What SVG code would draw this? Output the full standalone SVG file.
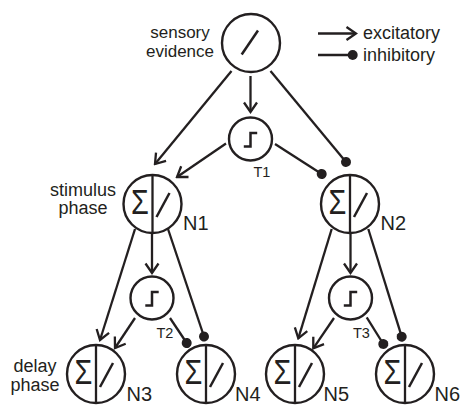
<svg xmlns="http://www.w3.org/2000/svg" xmlns:xlink="http://www.w3.org/1999/xlink" width="460" height="405" viewBox="0 0 460 405">
  <style>
    .ln { fill: none; stroke: #231f20; stroke-width: 2.3; stroke-linecap: butt; }
    .ring { fill: #ffffff; stroke: #231f20; stroke-width: 2.4; }
    .glyph { fill: none; stroke: #231f20; stroke-width: 2.5; stroke-linejoin: miter; }
    .lbl { font-family: "Liberation Sans", Arial, Helvetica, sans-serif; fill: #231f20; }
    .big { font-size: 18px; }
    .nlab { font-size: 20px; }
    .tlab { font-size: 14.5px; }
    .exc { marker-end: url(#arrowHead); }
    .inh { marker-end: url(#dotHead); }
  </style>
  <defs>
    <marker id="arrowHead" viewBox="-13 -9 15 18" refX="0" refY="0" markerWidth="15" markerHeight="18" markerUnits="userSpaceOnUse" orient="auto">
      <path d="M-9.5,-6.5 L0,0 L-9.5,6.5" fill="none" stroke="#231f20" stroke-width="2.3"/>
    </marker>
    <marker id="dotHead" viewBox="-6 -6 12 12" refX="0" refY="0" markerWidth="12" markerHeight="12" markerUnits="userSpaceOnUse" orient="auto">
      <circle cx="0" cy="0" r="5" fill="#231f20"/>
    </marker>
    <!-- integrator unit: circle split into sum and linear halves -->
    <g id="sumUnit">
      <circle class="ring" cx="0" cy="0" r="29"/>
      <line class="ln" x1="0" y1="-29" x2="0" y2="29"/>
      <text class="lbl" x="0" y="10" font-size="36" text-anchor="middle" transform="translate(-12.5,0) scale(0.8,1)">Σ</text>
      <line class="glyph" x1="4" y1="13" x2="17" y2="-11"/>
    </g>
    <!-- threshold unit: circle with a step function -->
    <g id="stepUnit">
      <circle class="ring" cx="0" cy="0" r="21.5"/>
      <path class="glyph" d="M-6.7,7.5 H0 V-6 H6.7"/>
    </g>
  </defs>

  <!-- connectors -->
  <g id="connectors">
    <path class="ln exc" d="M231.5,71 L155,164"/>
    <path class="ln exc" d="M250.5,76 L250.5,112"/>
    <path class="ln inh" d="M270.5,71 L346,162"/>
    <path class="ln exc" d="M226,143.5 L177,177"/>
    <path class="ln inh" d="M275,144 L321.7,174"/>

    <path class="ln exc" d="M135,229 L100,340"/>
    <path class="ln exc" d="M152,233 L152,273"/>
    <path class="ln inh" d="M168,229 L204,336.5"/>
    <path class="ln exc" d="M135,318 L115,348"/>
    <path class="ln inh" d="M170,318 L186.7,343"/>

    <path class="ln exc" d="M331.7,229 L298.3,338.3"/>
    <path class="ln exc" d="M350.5,233 L350.5,273"/>
    <path class="ln inh" d="M368.3,229 L401.7,336.7"/>
    <path class="ln exc" d="M334,318 L313.3,348.3"/>
    <path class="ln inh" d="M366.7,317.3 L383.3,344"/>
  </g>

  <!-- sensory input node -->
  <g id="sensory" transform="translate(251,43)">
    <circle class="ring" cx="0" cy="0" r="29"/>
    <line class="glyph" x1="-9.3" y1="11.5" x2="7" y2="-12.5"/>
  </g>

  <g id="T1" transform="translate(250.5,139)">
    <use xlink:href="#stepUnit"/>
    <text class="lbl tlab" x="3" y="37.5">T1</text>
  </g>
  <g id="T2" transform="translate(152,298)">
    <use xlink:href="#stepUnit"/>
    <text class="lbl tlab" x="4.5" y="40">T2</text>
  </g>
  <g id="T3" transform="translate(350.5,298)">
    <use xlink:href="#stepUnit"/>
    <text class="lbl tlab" x="2.5" y="40">T3</text>
  </g>

  <g id="N1" transform="translate(152.5,204)">
    <use xlink:href="#sumUnit"/>
    <text class="lbl nlab" x="30.5" y="25.5">N1</text>
  </g>
  <g id="N2" transform="translate(350,204)">
    <use xlink:href="#sumUnit"/>
    <text class="lbl nlab" x="30.5" y="25.5">N2</text>
  </g>
  <g id="N3" transform="translate(96,374)">
    <use xlink:href="#sumUnit"/>
    <text class="lbl nlab" x="30.5" y="27">N3</text>
  </g>
  <g id="N4" transform="translate(206,374)">
    <use xlink:href="#sumUnit"/>
    <text class="lbl nlab" x="29" y="27">N4</text>
  </g>
  <g id="N5" transform="translate(295,374)">
    <use xlink:href="#sumUnit"/>
    <text class="lbl nlab" x="28.5" y="27">N5</text>
  </g>
  <g id="N6" transform="translate(405,374)">
    <use xlink:href="#sumUnit"/>
    <text class="lbl nlab" x="29.5" y="27">N6</text>
  </g>

  <!-- side labels -->
  <g id="labels">
    <text class="lbl" font-size="17" text-anchor="middle" x="180" y="38">sensory</text>
    <text class="lbl" font-size="17" text-anchor="middle" x="180" y="56.5">evidence</text>
    <text class="lbl big" text-anchor="middle" x="83" y="195.5">stimulus</text>
    <text class="lbl big" text-anchor="middle" x="83" y="214">phase</text>
    <text class="lbl big" text-anchor="middle" x="35" y="372">delay</text>
    <text class="lbl big" text-anchor="middle" x="35" y="390.5">phase</text>
  </g>

  <!-- legend -->
  <g id="legend">
    <path class="ln exc" d="M318,33.5 L356,33.5"/>
    <text class="lbl big" x="363" y="38.5">excitatory</text>
    <path class="ln inh" d="M318,55 L352.7,55"/>
    <text class="lbl big" x="363" y="61">inhibitory</text>
  </g>
</svg>
